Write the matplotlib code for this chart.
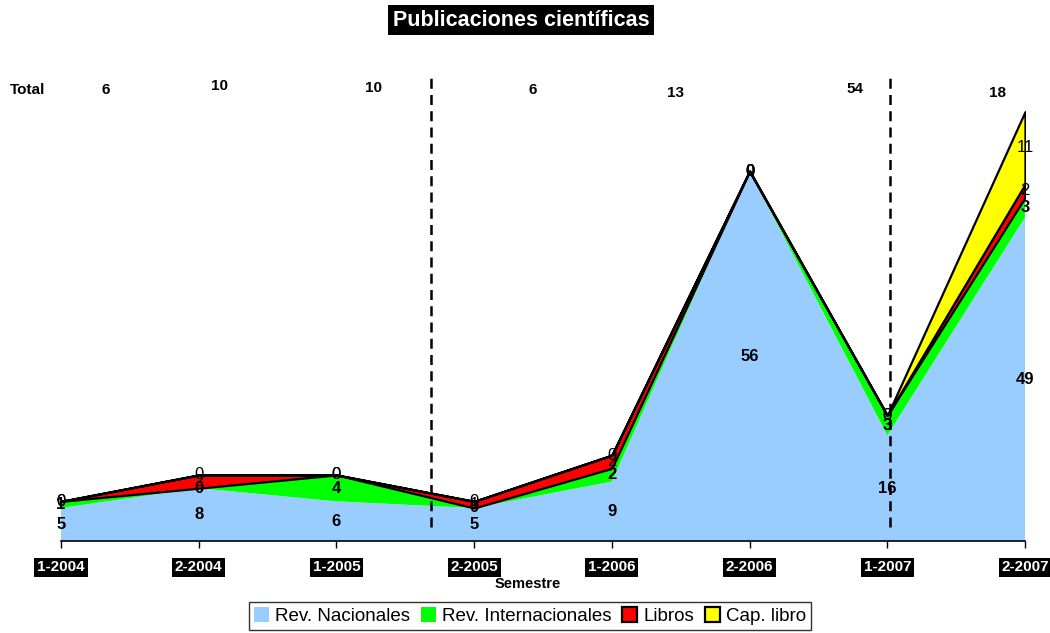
import numpy as np
import matplotlib.pyplot as plt

plt.rcParams['font.family'] = ['Liberation Sans', 'DejaVu Sans']

semestres = ['1-2004', '2-2004', '1-2005', '2-2005', '1-2006', '2-2006', '1-2007', '2-2007']
rev_nacionales = [5, 8, 6, 5, 9, 56, 16, 49]
rev_internacionales = [1, 0, 4, 0, 2, 0, 3, 3]
libros = [0, 2, 0, 1, 2, 0, 0, 2]
cap_libro = [0, 0, 0, 0, 0, 0, 0, 11]

series = ['Rev. Nacionales', 'Rev. Internacionales', 'Libros', 'Cap. libro']
colores = ['#99ccff', '#00ff00', '#ff0000', '#ffff00']
bordes = [False, False, True, True]
negrita = ['bold', 'bold', 'normal', 'normal']

# fila de totales sobre el grafico
total_labels = ['6', '10', '10', '6', '13', '54', '18']
total_pos = [(106, 90), (220, 86), (373, 88), (533, 90), (676, 93), (855, 89), (997, 93)]

# separadores verticales (posicion en semestres)
cortes = [2.69, 6.02]

fig = plt.figure(figsize=(10.5, 6.33), dpi=100)
ax = fig.add_axes([61 / 1050, 1 - 541 / 633, 964 / 1050, (541 - 72) / 633])

x = np.arange(len(semestres))
datos = np.array([rev_nacionales, rev_internacionales, libros, cap_libro], dtype=float)
base = np.zeros(len(semestres))
for i, fila in enumerate(datos):
    tope = base + fila
    if bordes[i]:
        ax.fill_between(x, base, tope, facecolor=colores[i], edgecolor='black',
                        linewidth=1.6, label=series[i])
    else:
        ax.fill_between(x, base, tope, facecolor=colores[i], linewidth=0,
                        label=series[i])
    for xi, b, v in zip(x, base, fila):
        ax.text(xi, b + v / 2, f'{int(v)}', ha='center', va='center',
                fontsize=12, fontweight=negrita[i], color='black')
    base = tope

for c in cortes:
    ax.axvline(c, ymin=0.03, ymax=1.0, color='black', linestyle=(0, (4, 2.5)),
               linewidth=1.8)

ax.set_xlim(0, len(semestres) - 1)
ax.set_ylim(0, 71)
ax.set_yticks([])
for s in ['left', 'right', 'top']:
    ax.spines[s].set_visible(False)
ax.spines['bottom'].set_linewidth(1.2)
ax.set_xticks(x)
ax.set_xticklabels(semestres)
ax.tick_params(axis='x', length=5, width=1, pad=9)
for t in ax.get_xticklabels():
    t.set_fontsize(11)
    t.set_fontweight('bold')
    t.set_color('white')
    t.set_bbox(dict(facecolor='black', edgecolor='none', pad=2))

fig.text(528 / 1050, 1 - 584 / 633, 'Semestre', ha='center', va='center',
         fontsize=10.5, fontweight='bold')

fig.text(521 / 1050, 1 - 20 / 633, 'Publicaciones científicas', ha='center',
         va='center', fontsize=15.5, fontweight='bold', color='white',
         bbox=dict(facecolor='black', edgecolor='none', pad=3.5))

fig.text(28 / 1050, 1 - 90 / 633, 'Total', ha='center', va='center',
         fontsize=11, fontweight='bold')
for lab, (px, py) in zip(total_labels, total_pos):
    fig.text(px / 1050, 1 - py / 633, lab, ha='center', va='center',
             fontsize=11, fontweight='bold')

leg = fig.legend(loc='center', bbox_to_anchor=(530 / 1050, 1 - 616 / 633), ncol=4,
                 frameon=True, fancybox=False, fontsize=13.5, handlelength=0.8,
                 handleheight=0.8, handletextpad=0.3, columnspacing=0.6,
                 borderpad=0.3, borderaxespad=0)
leg.get_frame().set_edgecolor('black')
leg.get_frame().set_linewidth(1)

fig.savefig('out.png', dpi=100)
